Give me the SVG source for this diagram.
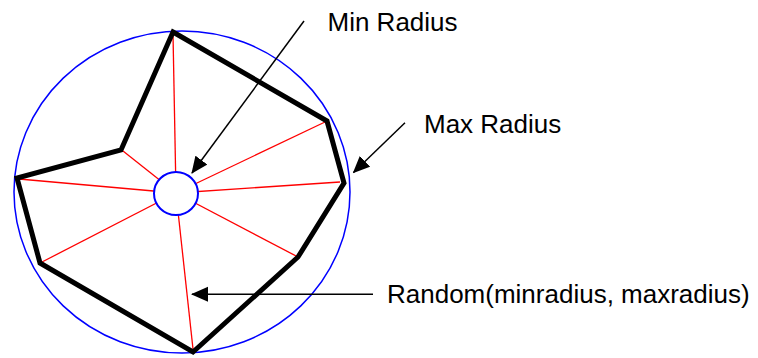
<svg xmlns="http://www.w3.org/2000/svg" width="758" height="358" viewBox="0 0 758 358">
<defs>
<style>
.spoke{stroke:#ff0000;stroke-width:1.3;fill:none}
.poly{stroke:#000;stroke-width:5;fill:none;stroke-linejoin:miter}
.ring{stroke:#0000ff;fill:none}
.arrow{stroke:#000;stroke-width:1.5;fill:none;marker-end:url(#ah)}
.lbl{font-family:"Liberation Sans",Arial,sans-serif;font-size:26px;fill:#000}
</style>
<marker id="ah" viewBox="0 0 17 16" refX="16" refY="8" markerWidth="17" markerHeight="16" markerUnits="userSpaceOnUse" orient="auto">
<path d="M0,0.5 L17,8 L0,15.5 z" fill="#000"/>
</marker>
</defs>
<rect width="758" height="358" fill="#fff"/>
<g id="max-circle">
<ellipse class="ring" cx="182" cy="192" rx="168" ry="161" stroke-width="1.5"/>
</g>
<g id="spokes">
<line class="spoke" x1="176" y1="193" x2="173" y2="34"/>
<line class="spoke" x1="176" y1="193" x2="325" y2="122"/>
<line class="spoke" x1="176" y1="193" x2="340" y2="182"/>
<line class="spoke" x1="176" y1="193" x2="298" y2="257"/>
<line class="spoke" x1="176" y1="193" x2="193" y2="349"/>
<line class="spoke" x1="176" y1="193" x2="42" y2="262"/>
<line class="spoke" x1="176" y1="193" x2="19" y2="179"/>
<line class="spoke" x1="176" y1="193" x2="123" y2="151"/>
</g>
<g id="polygon">
<polygon class="poly" points="173,32 327,121 344,183 298,257 193,352 40,263 17,178 121,150"/>
</g>
<g id="min-circle">
<ellipse class="ring" cx="176" cy="193.5" rx="22" ry="21.5" fill="#fff" style="fill:#fff" stroke-width="2"/>
</g>
<g id="connectors">
<line class="arrow" x1="304" y1="21" x2="192" y2="173"/>
<line class="arrow" x1="405" y1="122.7" x2="353.5" y2="172.5"/>
<line class="arrow" x1="373" y1="294.3" x2="192" y2="294.3"/>
</g>
<g id="label-min"><text class="lbl" x="327.5" y="31">Min Radius</text></g>
<g id="label-max"><text class="lbl" x="424" y="133">Max Radius</text></g>
<g id="label-random"><text class="lbl" x="387" y="303">Random(minradius, maxradius)</text></g>
</svg>
